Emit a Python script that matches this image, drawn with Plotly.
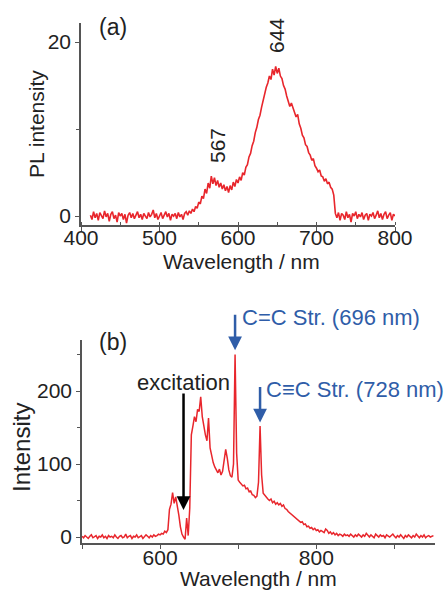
import plotly.graph_objects as go

W, H = 446, 590

# ---------------- data ----------------
# panel (a): PL spectrum, 2 nm sampling from 412 nm
wl_a_start, wl_a_step = 412, 2
pl_a = [
    0.1, -0.4, 0.5, -0.2, 0.3, -0.5, 0.4, 0.0, -0.3, 0.6,      # 412-430
    -0.1, 0.3, -0.6, 0.2, 0.5, -0.3, 0.1, -0.7, 0.4, 0.0,      # 432-450
    0.3, -0.4, 0.2, -0.8, 0.1, 0.4, -0.2, 0.3, -0.3, 0.1,      # 452-470
    0.5, -0.2, 0.2, -0.4, 0.3, 0.0, -0.3, 0.4, -0.1, 0.2,      # 472-490
    0.7, -0.2, 0.3, -0.4, 0.1, 0.4, -0.3, 0.2, 0.5, -0.1,      # 492-510
    0.3, -0.5, 0.2, 0.0, 0.3, -0.3, 0.4, -0.1, 0.2, -0.4,      # 512-530
    0.3, 0.5, 0.1, 0.6, 0.3, 0.8, 0.5, 1.1, 0.9, 1.6,          # 532-550
    1.4, 2.3, 2.0, 3.1, 2.6, 3.8, 3.2, 4.6, 3.7, 4.4,          # 552-570
    3.5, 4.1, 3.3, 3.8, 3.1, 3.6, 2.9, 3.4, 2.7, 3.5,          # 572-590
    3.0, 3.9, 3.4, 4.2, 3.8, 4.5, 4.1, 5.0, 4.7, 5.6,          # 592-610
    5.9, 6.8, 7.2, 8.1, 8.6, 9.6, 10.2, 11.1, 11.6, 12.5,      # 612-630
    13.3, 13.9, 14.8, 15.3, 16.1, 15.7, 16.9, 16.2, 17.2, 16.4,  # 632-650
    17.0, 16.1, 15.8, 15.0, 14.6, 13.8, 13.1, 12.6, 13.0, 12.4,  # 652-670
    11.9, 11.4, 11.7, 10.6, 10.1, 9.3, 9.0, 8.2, 8.0, 7.3,     # 672-690
    7.0, 6.4, 6.6, 5.8, 5.5, 5.1, 5.3, 4.6, 4.5, 4.0,          # 692-710
    4.3, 3.7, 3.9, 3.3, 3.1, 2.4, 0.3, -0.2, 0.4, -0.5,        # 712-730
    0.3, 0.1, -0.4, 0.5, -0.2, 0.2, -0.7, 0.3, 0.0, 0.5,       # 732-750
    -0.3, 0.2, -0.1, 0.4, -0.4, 0.1, 0.3, -0.5, 0.2, 0.0,      # 752-770
    0.4, -0.3, 0.1, 0.6, -0.2, 0.3, -0.4, 0.2, 0.5, -0.3,      # 772-790
    0.1, 0.4, -0.5, 0.2, 0.0,                                  # 792-800
]
wl_a = [wl_a_start + wl_a_step * i for i in range(len(pl_a))]

# panel (b): Raman / emission spectrum, 2 nm sampling from 500 nm
wl_b_start, wl_b_step = 500, 2
int_b = [
    1, -1, 2, 0, -2, 1, 3, -1, 0, 2,              # 500-518
    -2, 1, 0, 3, -1, 1, -2, 2, 0, 1,              # 520-538
    -1, 3, 0, -2, 1, 2, -1, 0, 4, -1,             # 540-558
    1, 2, -2, 1, 0, 3, -1, 1, 2, -2,              # 560-578
    0, 3, 1, -1, 2, 0, 3, 1, 2, 4,                # 580-598
    3, 5, 4, 8, 6, 10, 38, 45, 61, 46,            # 600-618
    55, 44, 30, 14, 4, 0, -3, 26, 2, 40,          # 620-638
    140, 152, 165, 158, 175, 172, 192, 165, 150, 140,  # 640-658
    132, 163, 122, 110, 102, 96, 92, 88, 93, 85,  # 660-678
    90, 105, 120, 108, 92, 84, 82, 100, 250, 115, # 680-698
    78, 75, 72, 70, 71, 66, 67, 62, 63, 58,       # 700-718
    57, 54, 56, 75, 152, 85, 60, 57, 54, 52,      # 720-738
    50, 52, 47, 49, 45, 47, 44, 46, 42, 44,       # 740-758
    39, 38, 35, 33, 32, 29, 28, 25, 24, 22,       # 760-778
    20, 21, 17, 18, 14, 15, 12, 13, 10, 12,       # 780-798
    9, 10, 7, 9, 8, 6, 11, 9, 5, 7,               # 800-818
    4, 6, 3, 5, 2, 4, 3, 1, 4, 2,                 # 820-838
    3, 1, 4, 2, 0, 3, 1, 4, 2, 0,                 # 840-858
    3, 1, 5, 2, 0, 3, 1, -1, 4, 2,                # 860-878
    0, 3, 1, 2, -1, 3, 1, 0, 2, 4,                # 880-898
    1, -1, 2, 0, 3, 1, -2, 2, 0, 3,               # 900-918
    1, -1, 2, 0, 4, 1, -1, 2, 0, 3,               # 920-938
    -1, 1, 2, 0, 1, 2,                            # 940-950
]
wl_b = [wl_b_start + wl_b_step * i for i in range(len(int_b))]

a_xticks = [400, 500, 600, 700, 800]
a_yticks = [0, 20]
b_xticks = [600, 800]
b_yticks = [0, 100, 200]

# ---------------- styling ----------------
RED = "#e8262c"
BLUE = "#2f5da8"
AX = "#555555"
TXT = "#222222"
FONT = "Liberation Sans, Arial, sans-serif"


def px(x):
    return x / W


def py(y):
    return 1 - y / H


fig = go.Figure()
fig.add_trace(go.Scatter(x=wl_a, y=pl_a, mode="lines",
                         line=dict(color=RED, width=1.6), xaxis="x", yaxis="y",
                         showlegend=False, hoverinfo="skip"))
fig.add_trace(go.Scatter(x=wl_b, y=int_b, mode="lines",
                         line=dict(color=RED, width=1.5), xaxis="x2", yaxis="y2",
                         showlegend=False, hoverinfo="skip"))

axis_common = dict(showline=True, linecolor=AX, linewidth=1.5, showgrid=False,
                   zeroline=False, ticks="outside", tickcolor=AX, tickwidth=1.2,
                   ticklen=4, tickfont=dict(family=FONT, size=21, color=TXT),
                   mirror=False, fixedrange=True, automargin=False)

fig.update_layout(
    template="none",
    width=W, height=H, margin=dict(l=0, r=0, t=0, b=0, pad=0, autoexpand=False),
    paper_bgcolor="white", plot_bgcolor="white",
    font=dict(family=FONT, color=TXT),
    xaxis=dict(axis_common, domain=[px(81), px(395)], range=[400, 800],
               tickvals=a_xticks, anchor="y", ticklabelstandoff=-11,
               minor=dict(dtick=50, tick0=400, ticks="inside", ticklen=3,
                          tickcolor=AX, tickwidth=1)),
    yaxis=dict(axis_common, domain=[py(225), py(23)], range=[-1.03, 22.2],
               tickvals=a_yticks, anchor="x",
               minor=dict(dtick=10, tick0=0, ticks="outside", ticklen=3,
                          tickcolor=AX, tickwidth=1)),
    xaxis2=dict(axis_common, domain=[px(82), px(435)], range=[500, 952],
                tickvals=b_xticks, anchor="y2", ticklabelstandoff=-9,
                minor=dict(dtick=100, tick0=500, ticks="outside", ticklen=4,
                           tickcolor=AX, tickwidth=1)),
    yaxis2=dict(axis_common, domain=[py(543), py(340)], range=[-8.2, 270],
                tickvals=b_yticks, anchor="x2",
                minor=dict(dtick=50, tick0=0, ticks="outside", ticklen=3,
                           tickcolor=AX, tickwidth=1)),
)

ann = []


def text(x, y, s, size=22, color=TXT, angle=0, xanchor="center"):
    ann.append(dict(x=px(x), y=py(y), xref="paper", yref="paper", text=s,
                    showarrow=False, textangle=angle, xanchor=xanchor,
                    yanchor="middle", font=dict(family=FONT, size=size, color=color)))


# panel labels
text(113, 27, "(a)", size=23)
text(113, 342, "(b)", size=23)
# axis titles
text(241, 261, "Wavelength / nm", size=21)
text(36, 124, "PL intensity", size=21, angle=-90)
text(258, 578, "Wavelength / nm", size=21)
text(21, 448, "Intensity", size=24, angle=-90)
# peak labels panel (a)
text(217, 146, "567", size=21, angle=-90)
text(276, 36, "644", size=21, angle=-90)
# panel (b) annotations
text(183, 382, "excitation", size=22)
text(240, 317, "C=C Str. (696 nm)", size=22, color=BLUE, xanchor="left")
text(264, 389, "C≡C Str. (728 nm)", size=22, color=BLUE, xanchor="left")


# arrows
def arrow(xd, yd, ay, color, width):
    ann.append(dict(x=xd, y=yd, xref="x2", yref="y2", ax=0, ay=ay, text="",
                    showarrow=True, arrowhead=2, arrowsize=1.1, arrowwidth=width,
                    arrowcolor=color, standoff=0, startstandoff=0))


arrow(630, 37, -118, "#000000", 2.5)
arrow(696, 256, -37, BLUE, 2.5)
arrow(728, 157, -37, BLUE, 2.5)

fig.update_layout(annotations=ann)
fig.write_html("out.html", config={"displayModeBar": False},
               post_script="document.body.style.margin='0px';document.body.style.overflow='hidden';")
